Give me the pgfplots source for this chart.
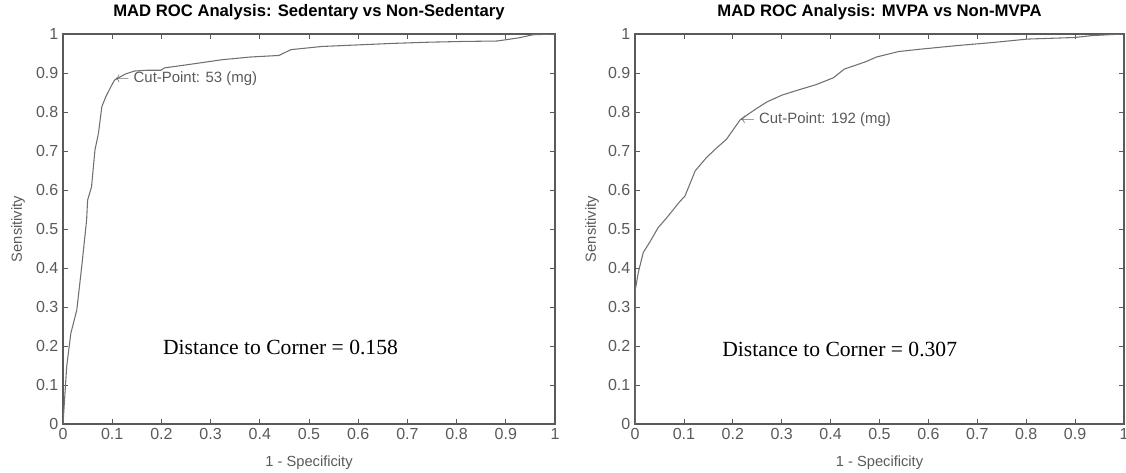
\documentclass[border=0pt]{standalone}
\usepackage{fontspec}
\setmainfont{Liberation Sans}
\newfontfamily\timesfont{Liberation Serif}
\usepackage{pgfplots}
\pgfplotsset{compat=1.18}
\definecolor{axgray}{HTML}{5A5A5A}
\definecolor{curvegray}{HTML}{707070}

\pgfplotstableread{
x y
0 0
0.0075 0.147
0.016 0.233
0.028 0.292
0.038 0.403
0.048 0.523
0.050 0.574
0.058 0.608
0.065 0.703
0.072 0.745
0.079 0.814
0.087 0.839
0.099 0.869
0.105 0.882
0.126 0.897
0.145 0.905
0.170 0.907
0.199 0.907
0.206 0.913
0.257 0.922
0.323 0.934
0.381 0.941
0.439 0.945
0.450 0.952
0.464 0.960
0.526 0.968
0.599 0.972
0.672 0.976
0.744 0.979
0.817 0.981
0.882 0.982
0.926 0.990
0.955 0.998
1 1
}\sedtable

\pgfplotstableread{
x y
0 0
0 0.340
0.007 0.390
0.017 0.440
0.031 0.468
0.047 0.503
0.065 0.529
0.092 0.571
0.102 0.584
0.123 0.649
0.146 0.683
0.167 0.708
0.187 0.730
0.215 0.780
0.245 0.806
0.270 0.826
0.300 0.843
0.330 0.855
0.370 0.870
0.406 0.888
0.428 0.910
0.472 0.929
0.494 0.941
0.539 0.955
0.583 0.961
0.656 0.970
0.730 0.978
0.803 0.987
0.899 0.991
0.935 0.996
1 1
}\mvpatable

\pgfplotsset{
  rocaxis/.style={
    scale only axis,
    width=369pt, height=292.5pt,
    xmin=0, xmax=1, ymin=0, ymax=1,
    xtick={0,0.1,0.2,0.3,0.4,0.5,0.6,0.7,0.8,0.9,1},
    ytick={0,0.1,0.2,0.3,0.4,0.5,0.6,0.7,0.8,0.9,1},
    tick align=inside,
    major tick length=4pt,
    axis line style={axgray, line width=0.8pt},
    every tick/.style={axgray, line width=0.6pt},
    tick label style={font=\fontsize{12}{14}\selectfont, text=axgray},
    /pgf/number format/assume math mode=true,
    label style={font=\fontsize{11}{13}\selectfont, text=axgray},
    xlabel style={at={(axis description cs:0.5,-0.1)}, anchor=center},
    every axis title/.style={at={(axis description cs:0.5,1.056)}, anchor=center,
      font=\bfseries\fontsize{12.5}{14}\selectfont},
    xlabel={1 - Specificity},
    ylabel={Sensitivity},
  },
  roccurve/.style={curvegray, line width=0.8pt, mark=none},
}

\begin{document}
\begin{tikzpicture}
\useasboundingbox (-47.25pt,-36pt) rectangle (797.25pt,318pt);

\begin{axis}[rocaxis,
  title={MAD ROC Analysis: Sedentary vs Non-Sedentary},
  ylabel style={at={(axis description cs:-0.0915,0.5)}, anchor=center},
]
\addplot[roccurve] table[x=x, y=y] {\sedtable};
\node[anchor=west, inner sep=0pt, text=axgray, font=\fontsize{11.2}{13}\selectfont] at (axis cs:0.105,0.885) {$\leftarrow$ Cut-Point: 53 (mg)};
\node[anchor=west, inner sep=0pt, font=\timesfont\fontsize{16.2}{18}\selectfont] at (axis cs:0.203,0.195) {Distance to Corner = 0.158};
\end{axis}

\begin{axis}[rocaxis, at={(429pt,0pt)}, width=366.75pt,
  title={MAD ROC Analysis: MVPA vs Non-MVPA},
  ylabel style={at={(axis description cs:-0.088,0.5)}, anchor=center},
]
\addplot[roccurve] table[x=x, y=y] {\mvpatable};
\node[anchor=west, inner sep=0pt, text=axgray, font=\fontsize{11.2}{13}\selectfont] at (axis cs:0.215,0.781) {$\leftarrow$ Cut-Point: 192 (mg)};
\node[anchor=west, inner sep=0pt, font=\timesfont\fontsize{16.2}{18}\selectfont] at (axis cs:0.178,0.19) {Distance to Corner = 0.307};
\end{axis}
\end{tikzpicture}
\end{document}
